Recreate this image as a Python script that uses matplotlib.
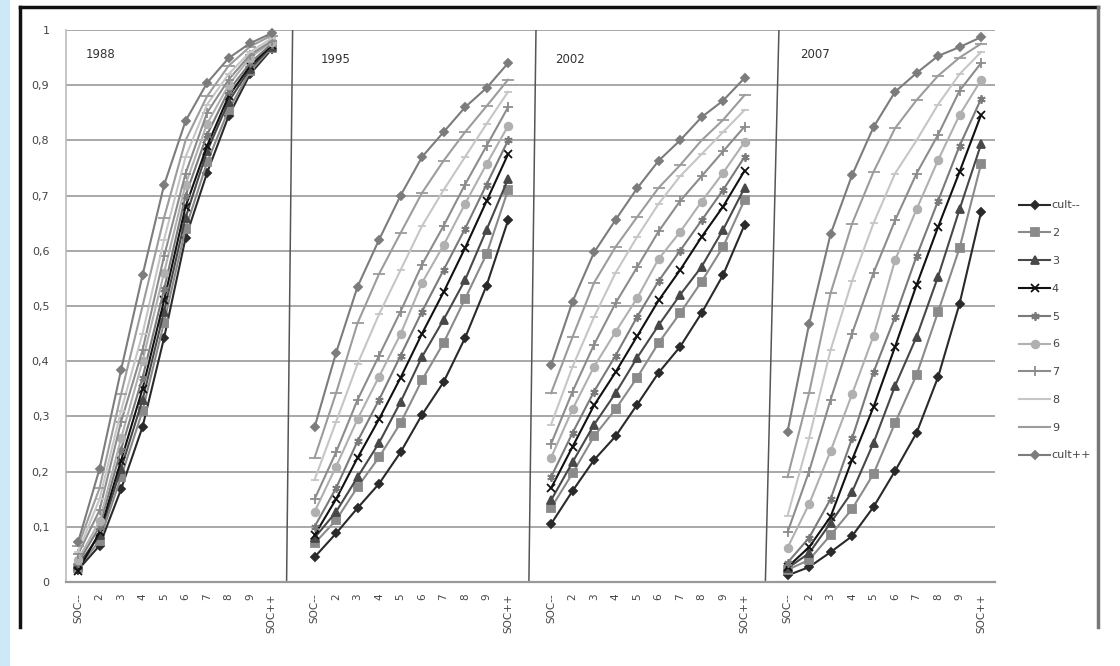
import matplotlib
matplotlib.use("Agg")
import matplotlib.pyplot as plt
from matplotlib.lines import Line2D
import numpy as np

plt.rcParams['font.family'] = ['DejaVu Sans']

categories = ["SOC--", "2", "3", "4", "5", "6", "7", "8", "9", "SOC++"]
series_names = ["cult--", "2", "3", "4", "5", "6", "7", "8", "9", "cult++"]
years = ["1988", "1995", "2002", "2007"]
y_ticks = [0, 0.1, 0.2, 0.3, 0.4, 0.5, 0.6, 0.7, 0.8, 0.9, 1.0]
y_tick_labels = ["0", "0,1", "0,2", "0,3", "0,4", "0,5", "0,6", "0,7", "0,8", "0,9", "1"]

# values per year, one list per series (cult--, 2..9, cult++)
data_1988 = [
    [0.022, 0.066, 0.168, 0.281, 0.442, 0.623, 0.741, 0.844, 0.920, 0.965],
    [0.025, 0.075, 0.190, 0.310, 0.470, 0.640, 0.760, 0.855, 0.925, 0.968],
    [0.030, 0.085, 0.205, 0.330, 0.490, 0.660, 0.780, 0.870, 0.930, 0.970],
    [0.020, 0.090, 0.220, 0.350, 0.510, 0.680, 0.790, 0.880, 0.935, 0.972],
    [0.035, 0.100, 0.240, 0.370, 0.530, 0.700, 0.810, 0.890, 0.940, 0.975],
    [0.040, 0.110, 0.260, 0.400, 0.560, 0.720, 0.830, 0.900, 0.950, 0.978],
    [0.050, 0.130, 0.290, 0.420, 0.590, 0.740, 0.850, 0.910, 0.955, 0.980],
    [0.055, 0.150, 0.310, 0.450, 0.620, 0.770, 0.865, 0.920, 0.960, 0.985],
    [0.065, 0.170, 0.340, 0.500, 0.660, 0.800, 0.880, 0.935, 0.970, 0.990],
    [0.072, 0.205, 0.384, 0.556, 0.719, 0.835, 0.904, 0.949, 0.976, 0.994],
]
data_1995 = [
    [0.045, 0.088, 0.134, 0.178, 0.235, 0.303, 0.362, 0.442, 0.537, 0.655],
    [0.070, 0.112, 0.172, 0.226, 0.288, 0.366, 0.433, 0.513, 0.594, 0.710],
    [0.080, 0.127, 0.190, 0.252, 0.326, 0.408, 0.475, 0.547, 0.638, 0.730],
    [0.085, 0.150, 0.225, 0.295, 0.370, 0.450, 0.525, 0.605, 0.690, 0.775],
    [0.100, 0.170, 0.255, 0.330, 0.410, 0.490, 0.565, 0.640, 0.720, 0.800],
    [0.127, 0.209, 0.295, 0.372, 0.449, 0.542, 0.610, 0.685, 0.757, 0.826],
    [0.150, 0.235, 0.330, 0.410, 0.490, 0.575, 0.645, 0.720, 0.790, 0.860],
    [0.185, 0.290, 0.395, 0.485, 0.565, 0.645, 0.710, 0.770, 0.830, 0.888],
    [0.225, 0.342, 0.469, 0.558, 0.632, 0.705, 0.763, 0.815, 0.862, 0.910],
    [0.280, 0.415, 0.535, 0.620, 0.700, 0.770, 0.815, 0.860, 0.895, 0.940],
]
data_2002 = [
    [0.105, 0.165, 0.221, 0.264, 0.321, 0.379, 0.426, 0.487, 0.556, 0.647],
    [0.134, 0.197, 0.264, 0.313, 0.370, 0.433, 0.487, 0.544, 0.607, 0.692],
    [0.148, 0.217, 0.285, 0.342, 0.406, 0.465, 0.520, 0.571, 0.638, 0.714],
    [0.170, 0.245, 0.320, 0.380, 0.445, 0.510, 0.565, 0.625, 0.680, 0.745],
    [0.190, 0.270, 0.345, 0.410, 0.480, 0.545, 0.600, 0.655, 0.710, 0.770],
    [0.225, 0.313, 0.390, 0.453, 0.514, 0.585, 0.634, 0.689, 0.741, 0.797],
    [0.250, 0.345, 0.430, 0.505, 0.570, 0.635, 0.690, 0.735, 0.780, 0.825],
    [0.285, 0.390, 0.480, 0.560, 0.625, 0.685, 0.735, 0.775, 0.815, 0.855],
    [0.342, 0.444, 0.542, 0.607, 0.661, 0.714, 0.755, 0.800, 0.837, 0.882],
    [0.393, 0.508, 0.597, 0.656, 0.713, 0.763, 0.800, 0.842, 0.872, 0.913],
]
data_2007 = [
    [0.012, 0.027, 0.054, 0.083, 0.136, 0.201, 0.270, 0.371, 0.504, 0.670],
    [0.022, 0.040, 0.085, 0.132, 0.196, 0.288, 0.375, 0.489, 0.605, 0.757],
    [0.025, 0.052, 0.107, 0.163, 0.252, 0.355, 0.444, 0.553, 0.675, 0.793],
    [0.027, 0.063, 0.118, 0.221, 0.317, 0.426, 0.538, 0.643, 0.743, 0.846],
    [0.035, 0.080, 0.150, 0.260, 0.380, 0.480, 0.590, 0.690, 0.790, 0.875],
    [0.062, 0.141, 0.237, 0.340, 0.446, 0.583, 0.675, 0.764, 0.846, 0.909],
    [0.090, 0.200, 0.330, 0.450, 0.560, 0.655, 0.740, 0.810, 0.890, 0.940],
    [0.120, 0.260, 0.420, 0.545, 0.650, 0.740, 0.800, 0.865, 0.920, 0.960],
    [0.190, 0.342, 0.523, 0.649, 0.743, 0.822, 0.873, 0.917, 0.950, 0.975],
    [0.272, 0.467, 0.630, 0.737, 0.824, 0.888, 0.922, 0.953, 0.969, 0.987],
]
all_data = [data_1988, data_1995, data_2002, data_2007]

# styles per series
colors = ['#2a2a2a', '#8a8a8a', '#484848', '#111111', '#7a7a7a',
          '#b0b0b0', '#8c8c8c', '#c6c6c6', '#9c9c9c', '#7c7c7c']
markers = ['D', 's', '^', 'x', (6, 2, 0), 'o', '+', '_', '_', 'D']
msizes = [4, 5.5, 5.5, 5.5, 6, 5.5, 7, 6, 8, 4.5]

fig = plt.figure(figsize=(11.2, 6.66), dpi=100)
fig.patch.set_facecolor('white')

# light blue strip at left and outer frame
fig.add_artist(plt.Rectangle((0, 0), 10 / 1120, 1, transform=fig.transFigure,
                             facecolor='#cde8f8', edgecolor='none'))
fig.add_artist(Line2D([20 / 1120, 1098 / 1120], [1 - 7 / 666, 1 - 7 / 666],
                      transform=fig.transFigure, color='#111111', lw=2.5))
fig.add_artist(Line2D([20 / 1120, 20 / 1120], [1 - 7 / 666, 1 - 627 / 666],
                      transform=fig.transFigure, color='#111111', lw=2.5))
fig.add_artist(Line2D([1098 / 1120, 1098 / 1120], [1 - 7 / 666, 1 - 627 / 666],
                      transform=fig.transFigure, color='#777777', lw=2.5))

ax = fig.add_axes([66 / 1120, 1 - 582 / 666, (995 - 66) / 1120, (582 - 30) / 666])
ax.set_facecolor('white')

panel_offsets = [0, 11, 22, 33]
xs_all = []
labels_all = []
for off in panel_offsets:
    xs_all += [off + i for i in range(len(categories))]
    labels_all += categories

for p, (off, data) in enumerate(zip(panel_offsets, all_data)):
    x = np.arange(len(categories)) + off
    for s, vals in enumerate(data):
        ax.plot(x, vals, color=colors[s], lw=1.5, marker=markers[s],
                markersize=msizes[s], markeredgewidth=1.3,
                markerfacecolor=colors[s], markeredgecolor=colors[s],
                clip_on=False, zorder=3 + s * 0.01,
                label=series_names[s] if p == 0 else None)
    ax.text(off + [0.37, 0.3, 0.2, 0.6][p], [0.955, 0.947, 0.946, 0.955][p],
            years[p], fontsize=8.5, color='#333333', ha='left', va='center')

# panel separators (slightly slanted, as in the scanned original)
sep_bottom = [9.7, 20.97, 31.97]
sep_top = [9.98, 21.3, 32.6]
for xb, xt in zip(sep_bottom, sep_top):
    ax.plot([xb, xt], [0, 1], color='#555555', lw=1.1, zorder=2)

ax.set_xlim(-0.56, 42.65)
ax.set_ylim(0, 1)
ax.set_yticks(y_ticks)
ax.set_yticklabels(y_tick_labels)
ax.set_xticks(xs_all)
ax.set_xticklabels(labels_all, rotation=90, va='top', ha='center')
ax.tick_params(axis='both', length=0, colors='#444444', labelsize=7.5)
ax.tick_params(axis='y', pad=12, labelsize=8)
ax.tick_params(axis='x', pad=8)
ax.grid(axis='y', color='#a8a8a8', lw=1.4, zorder=1)
ax.set_axisbelow(True)
for side in ['top', 'right']:
    ax.spines[side].set_visible(False)
ax.spines['left'].set_color('#bbbbbb')
ax.spines['left'].set_linewidth(1.2)
ax.spines['bottom'].set_color('#999999')
ax.spines['bottom'].set_linewidth(1.6)

handles, labels = ax.get_legend_handles_labels()
leg = fig.legend(handles, labels, loc='center left',
                 bbox_to_anchor=(1019 / 1120, 1 - 330.5 / 666),
                 frameon=False, fontsize=8, handlelength=2.8,
                 handletextpad=0.15, labelspacing=1.6, borderpad=0,
                 borderaxespad=0)
for t in leg.get_texts():
    t.set_color('#444444')

fig.savefig('out.png', dpi=100, facecolor='white')
